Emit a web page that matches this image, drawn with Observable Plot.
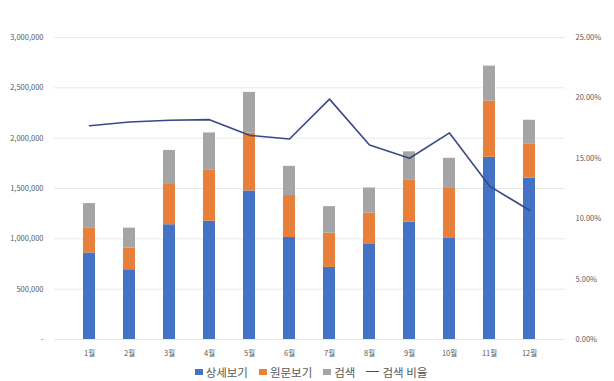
<!DOCTYPE html>
<html>
<head>
<meta charset="utf-8">
<script src="https://cdn.jsdelivr.net/npm/d3@7"></script>
<script src="https://cdn.jsdelivr.net/npm/@observablehq/plot@0.6"></script>
<style>
  body { margin: 0; background: #fff; font-family: "Noto Sans CJK KR", "Noto Sans", sans-serif; }
  #chart { width: 614px; height: 381px; position: relative; overflow: hidden; }
  .legend { display: flex; justify-content: center; align-items: center; gap: 11px;
            font-size: 11.5px; color: #595959; height: 19px; padding-left: 8px; }
  .item { display: flex; align-items: center; gap: 3px; }
  .sw { width: 8px; height: 6px; display: inline-block; }
  .ln { width: 13px; height: 1.6px; display: inline-block; }
</style>
</head>
<body>
<div id="chart"></div>
<script>
// Monthly views, stacked by type, with the share of search views on a second axis
const months = ["1월", "2월", "3월", "4월", "5월", "6월", "7월", "8월", "9월", "10월", "11월", "12월"];
const series = ["상세보기", "원문보기", "검색"];
const colors = ["#4472C4", "#E9803A", "#A5A5A5"];
const detailViews   = [860000, 693000, 1140000, 1175000, 1475000, 1013000, 716000, 944000, 1165000, 1010000, 1810000, 1604000];
const originalViews = [250000, 215000, 400000, 505000, 575000, 417000, 340000, 313000, 422000, 490000, 560000, 340000];
const searchViews   = [240000, 198000, 338000, 372000, 405000, 290000, 264000, 248000, 277000, 300000, 346000, 234000];
const searchRatio   = [17.7, 18.0, 18.15, 18.2, 16.9, 16.6, 19.9, 16.1, 15.0, 17.1, 12.7, 10.7]; // percent
const ratioLabel = "검색 비율";
const leftTicks = [0, 500000, 1000000, 1500000, 2000000, 2500000, 3000000];
const rightTicks = [0, 5, 10, 15, 20, 25]; // percent

// the percentage axis is drawn on the count scale: 25% sits at 3,000,000
const k = 3000000 / 25;

const seriesValues = [detailViews, originalViews, searchViews];
const rows = [];
months.forEach((m, i) => {
  series.forEach((s, j) => rows.push({month: m, series: s, value: seriesValues[j][i]}));
});
const ratioRows = months.map((m, i) => ({month: m, ratio: searchRatio[i]}));

const fmtCount = d3.format(",");

const plot = Plot.plot({
  width: 614,
  height: 362,
  marginTop: 37,
  marginBottom: 23,
  marginLeft: 54,
  marginRight: 49,
  style: {fontFamily: '"Noto Sans CJK KR", "Noto Sans", sans-serif', fontSize: "7.5px", color: "#595959", background: "#fff"},
  x: {domain: months, padding: 0.69, label: null},
  y: {domain: [0, 3000000], label: null},
  color: {domain: series, range: colors},
  marks: [
    Plot.gridY(leftTicks, {stroke: "#e3e3e3", strokeOpacity: 1, strokeWidth: 0.8}),
    Plot.barY(rows, {x: "month", y: "value", fill: "series"}),
    Plot.line(ratioRows, {x: "month", y: d => d.ratio * k, stroke: "#3a4889", strokeWidth: 1.6}),
    Plot.axisY({ticks: leftTicks, tickSize: 0, tickPadding: 11, label: null,
                tickFormat: v => v === 0 ? "-" : fmtCount(v)}),
    Plot.axisY({anchor: "right", ticks: rightTicks.map(v => v * k), tickSize: 0, tickPadding: 10, label: null,
                tickFormat: v => (v / k).toFixed(2) + "%"}),
    Plot.axisX({tickSize: 0, tickPadding: 11, label: null})
  ]
});

const chart = document.getElementById("chart");
chart.appendChild(plot);

// legend below the plot
const legend = document.createElement("div");
legend.className = "legend";
series.forEach((s, j) => {
  const item = document.createElement("span");
  item.className = "item";
  item.innerHTML = `<span class="sw" style="background:${colors[j]}"></span><span>${s}</span>`;
  legend.appendChild(item);
});
const lineItem = document.createElement("span");
lineItem.className = "item";
lineItem.innerHTML = `<span class="ln" style="background:#3a4889"></span><span>${ratioLabel}</span>`;
legend.appendChild(lineItem);
chart.appendChild(legend);
</script>
</body>
</html>
